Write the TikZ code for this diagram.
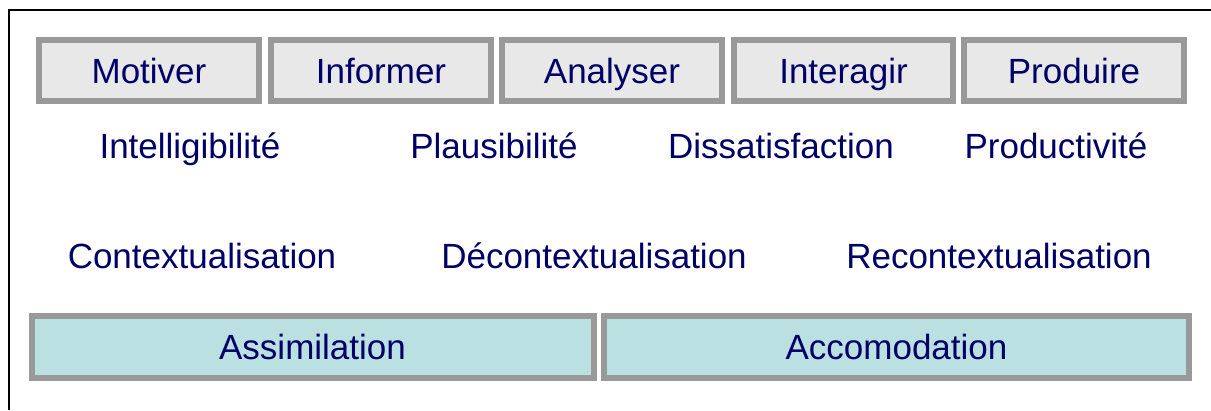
\documentclass[tikz,border=0pt]{standalone}
\usepackage{fontspec}
\setmainfont{Liberation Sans}
\definecolor{txt}{RGB}{0,0,102}
\definecolor{bord}{RGB}{153,153,153}
\definecolor{fillgray}{RGB}{232,232,232}
\definecolor{fillteal}{RGB}{186,224,225}
\begin{document}
\begin{tikzpicture}[x=1pt,y=-1pt,
  bigfont/.style={font=\fontsize{35}{38}\selectfont},
  phase/.style={bigfont,draw=bord,line width=6pt,fill=fillgray,inner sep=0pt,text=txt,text height=25pt,text depth=0pt},
  stage/.style={bigfont,draw=bord,line width=6pt,fill=fillteal,inner sep=0pt,text=txt,text height=25pt,text depth=0pt},
  lbl/.style={bigfont,text=txt,inner sep=0pt,anchor=base}]
\useasboundingbox (0,0) rectangle (1211,410);
\draw[line width=2pt] (9,410) -- (9,10) -- (1211,10);
% top boxes
\node[phase,minimum width=220pt,minimum height=61pt] (motiver) at (149,70.5) {Motiver};
\node[phase,minimum width=220pt,minimum height=61pt] (informer) at (381,70.5) {Informer};
\node[phase,minimum width=220pt,minimum height=61pt] (analyser) at (612,70.5) {Analyser};
\node[phase,minimum width=219pt,minimum height=61pt] (interagir) at (843.5,70.5) {Interagir};
\node[phase,minimum width=220pt,minimum height=61pt] (produire) at (1074,70.5) {Produire};
% middle labels
\node[lbl] (intel) at (190,158.5) {Intelligibilité};
\node[lbl] (plaus) at (494,158.5) {Plausibilité};
\node[lbl] (dissat) at (781,158.5) {Dissatisfaction};
\node[lbl] (prod) at (1056,158.5) {Productivité};
\node[lbl] (contex) at (202,268) {Contextualisation};
\node[lbl] (decontex) at (594,268) {Décontextualisation};
\node[lbl] (recontex) at (999,268) {Recontextualisation};
% bottom boxes
\node[stage,minimum width=562pt,minimum height=62pt] (assim) at (312.5,346.5) {Assimilation};
\node[stage,minimum width=585pt,minimum height=62pt] (accom) at (896.5,346.5) {Accomodation};
\end{tikzpicture}
\end{document}
